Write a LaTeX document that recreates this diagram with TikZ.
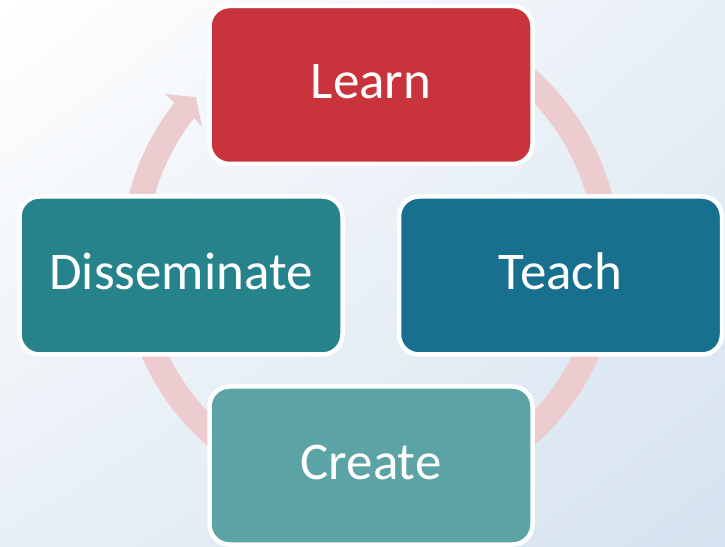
\documentclass[tikz,border=0pt]{standalone}
\usepackage{fontspec}
\setmainfont{Carlito}
\usetikzlibrary{shadings}
\definecolor{learnred}{RGB}{201,52,60}
\definecolor{teachblue}{RGB}{24,112,143}
\definecolor{dissteal}{RGB}{39,131,139}
\definecolor{createteal}{RGB}{91,163,165}
\definecolor{ringpink}{RGB}{236,204,206}
\definecolor{bgend}{RGB}{214,227,240}
\definecolor{bgmid}{RGB}{232,239,246}
\begin{document}
\begin{tikzpicture}[x=1pt,y=1pt,
  stagebox/.style={rectangle, rounded corners=20pt, minimum width=323pt, minimum height=158pt,
    draw=white, line width=4.5pt, inner sep=0pt, text=white,
    font=\fontsize{53}{60}\selectfont, text height=28pt, text depth=0pt}]
\useasboundingbox (0,0) rectangle (725,546);
\shade[upper left=white, lower right=bgend, upper right=bgmid, lower left=bgmid] (0,0) rectangle (725,546);
% cycle ring
\coordinate (rc) at (370.5,289);
\draw[ringpink, line width=25pt] ([shift={(110:237)}]rc) arc[start angle=110, end angle=-218.6, radius=237];
\fill[ringpink] ([shift={(-218.2:224.5)}]rc) -- ([shift={(-217.65:212.8)}]rc)
  -- ([shift={(-222.5:236.7)}]rc) -- ([shift={(-218.4:262.3)}]rc)
  -- ([shift={(-218.2:249.5)}]rc) -- cycle;
% stages
\node[stagebox, fill=learnred] (learn) at (371,461) {Learn};
\node[stagebox, fill=teachblue] (teach) at (560.5,270.5) {Teach};
\node[stagebox, fill=dissteal] (diss) at (181,270.5) {Disseminate};
\node[stagebox, fill=createteal] (create) at (371,80.5) {Create};
\end{tikzpicture}
\end{document}
